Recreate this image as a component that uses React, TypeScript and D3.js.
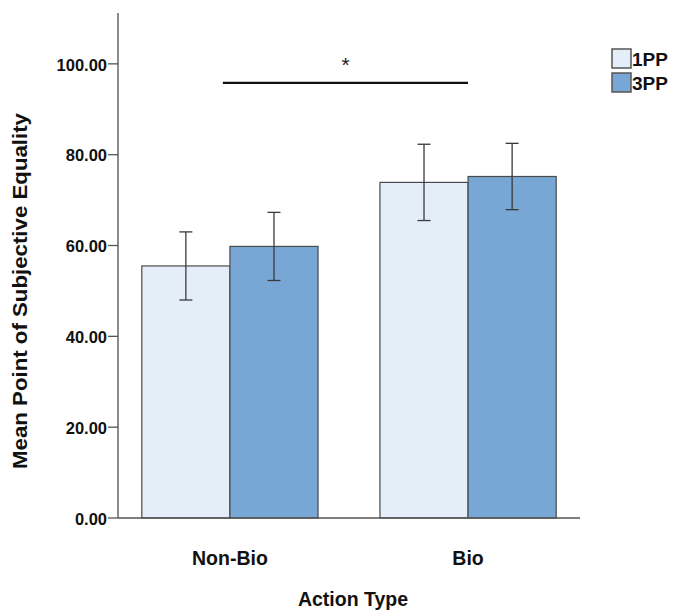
import React from "react";
import * as d3 from "d3";

const categories = ["Non-Bio", "Bio"];
const seriesNames = ["1PP", "3PP"];
const means1PP = [55.5, 73.9];
const means3PP = [59.8, 75.2];
const err1PP = [7.5, 8.4];
const err3PP = [7.5, 7.3];
const yTicks = [0, 20, 40, 60, 80, 100];
const sigPair = ["Non-Bio", "Bio"];
const sigLabel = "*";

const W = 673;
const H = 611;
const FONT = "'Liberation Sans', Arial, Helvetica, sans-serif";
const fills: Record<string, string> = { "1PP": "#e4eef9", "3PP": "#78a7d5" };
const stroke = "#4a4a4a";

export default function App() {
  const y = d3.scaleLinear().domain([0, 111.2]).range([518, 13]);
  const x0 = d3
    .scaleBand<string>()
    .domain(categories)
    .range([118, 580])
    .paddingInner(0.26)
    .paddingOuter(0.1);
  const x1 = d3
    .scaleBand<string>()
    .domain(seriesNames)
    .range([0, x0.bandwidth()])
    .padding(0);

  const rows = categories.flatMap((c, i) => [
    { cat: c, s: "1PP", mean: means1PP[i], err: err1PP[i] },
    { cat: c, s: "3PP", mean: means3PP[i], err: err3PP[i] },
  ]);

  const [yBottom, yTop] = y.range();
  const axisX = x0.range()[0];
  const axisRight = x0.range()[1];

  const sigX1 = (x0(sigPair[0]) ?? 0) + x1.bandwidth() * 0.92;
  const sigX2 = (x0(sigPair[1]) ?? 0) + x1.bandwidth();
  const sigY = y(95.8);

  return (
    <svg
      width={W}
      height={H}
      style={{ position: "absolute", left: 0, top: 0, background: "#fff" }}
      fontFamily={FONT}
    >
      {/* bars */}
      {rows.map((r) => {
        const bx = (x0(r.cat) ?? 0) + (x1(r.s) ?? 0);
        return (
          <rect
            key={r.cat + r.s}
            x={bx}
            y={y(r.mean)}
            width={x1.bandwidth()}
            height={y(0) - y(r.mean)}
            fill={fills[r.s]}
            stroke={stroke}
            strokeWidth={1.2}
          />
        );
      })}

      {/* error bars */}
      {rows.map((r) => {
        const cx = (x0(r.cat) ?? 0) + (x1(r.s) ?? 0) + x1.bandwidth() / 2;
        const top = y(r.mean + r.err);
        const bot = y(r.mean - r.err);
        return (
          <g key={"e" + r.cat + r.s} stroke="#3a3a3a" strokeWidth={1.3}>
            <line x1={cx} x2={cx} y1={top} y2={bot} />
            <line x1={cx - 6.5} x2={cx + 6.5} y1={top} y2={top} />
            <line x1={cx - 6.5} x2={cx + 6.5} y1={bot} y2={bot} />
          </g>
        );
      })}

      {/* y axis */}
      <line x1={axisX} x2={axisX} y1={yBottom} y2={yTop} stroke="#666" strokeWidth={1.5} />
      {yTicks.map((t) => (
        <g key={t}>
          <line x1={axisX - 10} x2={axisX} y1={y(t)} y2={y(t)} stroke="#555" strokeWidth={1.3} />
          <text
            x={axisX - 11}
            y={y(t) + 1}
            dy="0.35em"
            textAnchor="end"
            fontSize={16.5}
            fontWeight="bold"
            fill="#111"
          >
            {t.toFixed(2)}
          </text>
        </g>
      ))}

      {/* x axis */}
      <line x1={axisX} x2={axisRight} y1={y(0)} y2={y(0)} stroke="#555" strokeWidth={1.5} />
      {categories.map((c) => (
        <text
          key={c}
          x={(x0(c) ?? 0) + x0.bandwidth() / 2}
          y={565}
          textAnchor="middle"
          fontSize={19.5}
          fontWeight="bold"
          fill="#111"
        >
          {c}
        </text>
      ))}

      {/* axis titles */}
      <text
        x={353}
        y={606}
        textAnchor="middle"
        fontSize={19.5}
        fontWeight="bold"
        fill="#111"
      >
        Action Type
      </text>
      <text
        transform={`translate(27, 291) rotate(-90)`}
        textAnchor="middle"
        fontSize={20}
        fontWeight="bold"
        fill="#111"
        textLength={356}
        lengthAdjust="spacingAndGlyphs"
      >
        Mean Point of Subjective Equality
      </text>

      {/* significance bracket */}
      <line x1={sigX1} x2={sigX2} y1={sigY} y2={sigY} stroke="#111" strokeWidth={2.2} />
      <text x={(sigX1 + sigX2) / 2} y={sigY - 11} textAnchor="middle" fontSize={21} fill="#222">
        {sigLabel}
      </text>

      {/* legend */}
      {seriesNames.map((s, i) => (
        <g key={s} transform={`translate(612, ${49 + i * 24})`}>
          <rect x={0} y={0} width={19} height={19} fill={fills[s]} stroke="#555" strokeWidth={1.5} />
          <text x={20} y={10} dy="0.36em" fontSize={19} fontWeight="bold" fill="#111">
            {s}
          </text>
        </g>
      ))}
    </svg>
  );
}
